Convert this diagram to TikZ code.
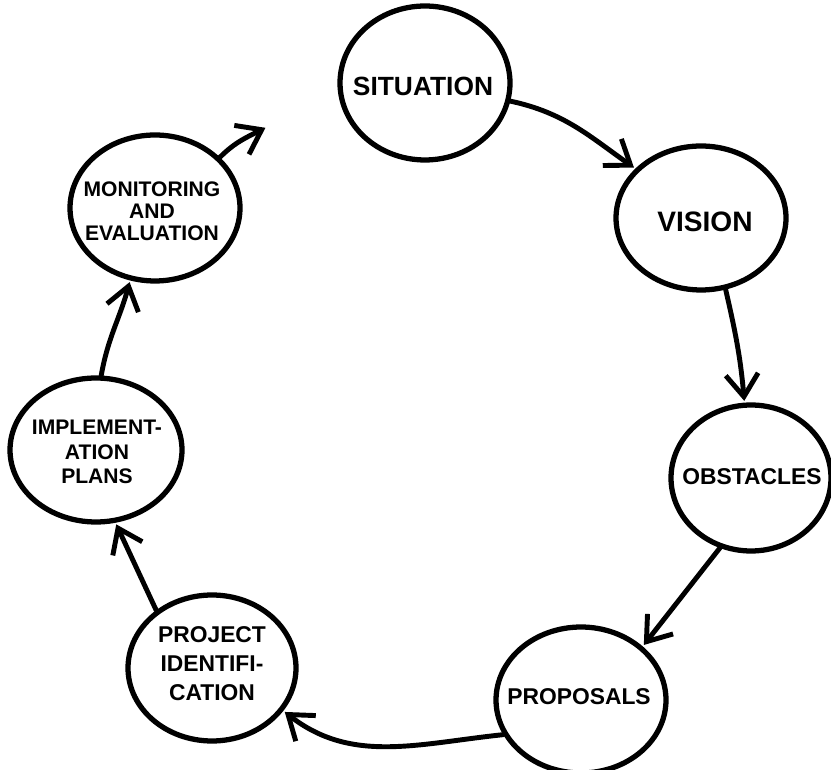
\documentclass[tikz,border=0pt]{standalone}
\usepackage{fontspec}
\setmainfont{Liberation Sans}
\usetikzlibrary{arrows.meta,shapes.geometric}
\definecolor{ink}{HTML}{000000}

\begin{document}
\begin{tikzpicture}[x=0.02cm, y=0.02cm,
  stage/.style={ellipse, draw=ink, line width=3pt, inner sep=0pt,
    minimum width=3.4cm, minimum height=2.92cm},
  lbl/.style={align=center, text=ink, font=\bfseries},
  flow/.style={draw=ink, line width=2.8pt, line cap=round,
    -{Straight Barb[length=4.5mm, width=6.5mm]}, shorten >=1pt}]

  % Page frame
  \useasboundingbox (0, 0) rectangle (831, 770);

  % Stages of the cycle
  \node[stage, minimum height=3.08cm] (sit) at (425, 687) {};
  \node[stage, minimum height=2.88cm] (vis) at (701, 552) {};
  \node[stage, minimum width=3.2cm] (obs) at (751, 292) {};
  \node[stage] (prop) at (581, 70) {};
  \node[stage, minimum width=3.36cm] (proj) at (212, 102) {};
  \node[stage, minimum width=3.44cm, minimum height=2.88cm] (impl) at (96, 320) {};
  \node[stage] (mon) at (155, 562) {};

  % Hand lettering
  \node[lbl, font=\bfseries\fontsize{15}{17}\selectfont] (sit-t) at (423, 684) {SITUATION};
  \node[lbl, font=\bfseries\fontsize{16}{18}\selectfont] (vis-t) at (705, 548) {VISION};
  \node[lbl, font=\bfseries\fontsize{13}{15}\selectfont] (obs-t) at (752, 293) {OBSTACLES};
  \node[lbl, font=\bfseries\fontsize{13}{15}\selectfont] (prop-t) at (579, 73) {PROPOSALS};
  \node[lbl, font=\bfseries\fontsize{13}{16.5}\selectfont] (proj-t) at (212, 106)
    {PROJECT\\IDENTIFI-\\CATION};
  \node[lbl, font=\bfseries\fontsize{12}{14}\selectfont] (impl-t) at (97, 318)
    {IMPLEMENT-\\ATION\\PLANS};
  \node[lbl, font=\bfseries\fontsize{12}{12.5}\selectfont] (mon-t) at (152, 559)
    {MONITORING\\AND\\EVALUATION};

  % Loose end of the last arrow
  \coordinate (mon-out) at (267, 643);

  % Arrows round the cycle
  \draw[flow] (sit.-12) to[out=-12, in=145] (vis.143);
  \draw[flow] (vis.-71) to[out=-77, in=95] (obs.95);
  \draw[flow] (obs.-114) -- (prop.41);
  \draw[flow] (prop.204) to[out=186, in=-38] (proj.-31);
  \draw[flow] (proj.134) to[out=115, in=-65] (impl.-75);
  \draw[flow] (impl.86) to[out=80, in=-105] (mon.-109);
  \draw[flow] (mon.38) to[out=45, in=-153] (mon-out);
\end{tikzpicture}
\end{document}
